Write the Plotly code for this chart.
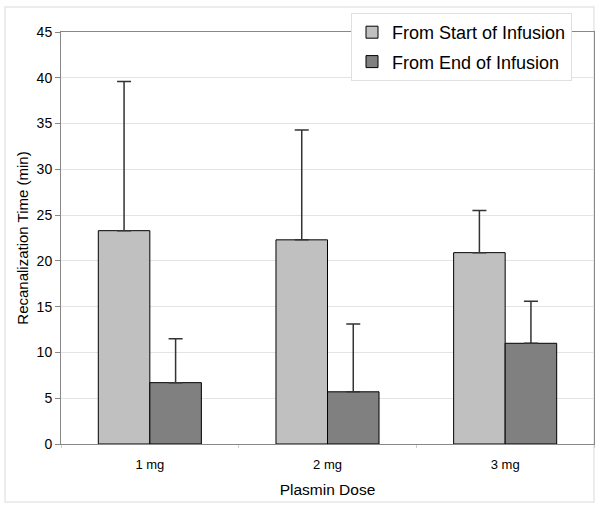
import plotly.graph_objects as go

categories = ["1 mg", "2 mg", "3 mg"]
start_vals = [23.3, 22.3, 20.9]
start_err = [16.3, 12.0, 4.6]
end_vals = [6.7, 5.7, 11.0]
end_err = [4.8, 7.4, 4.6]
series_names = ["From Start of Infusion", "From End of Infusion"]

FONT = "Liberation Sans, Arial, sans-serif"

fig = go.Figure()
fig.add_trace(go.Bar(
    x=categories, y=start_vals, name=series_names[0], legendgroup="a",
    marker=dict(color="#c0c0c0", line=dict(color="#000000", width=1)),
    error_y=dict(type="data", array=start_err, arrayminus=[0, 0, 0], symmetric=False,
                 color="#333333", thickness=1.5, width=7),
))
fig.add_trace(go.Bar(
    x=categories, y=end_vals, name=series_names[1], legendgroup="b",
    marker=dict(color="#808080", line=dict(color="#000000", width=1)),
    error_y=dict(type="data", array=end_err, arrayminus=[0, 0, 0], symmetric=False,
                 color="#333333", thickness=1.5, width=7),
))

L, R, T, B = 61, 6, 32, 64
W, H = 600, 508
pw, ph = W - L - R, H - T - B

def px_x(p):
    return (p - L) / pw

def px_y(p):
    return (H - B - p) / ph

fig.update_layout(
    width=W, height=H,
    margin=dict(l=L, r=R, t=T, b=B),
    paper_bgcolor="white", plot_bgcolor="white",
    barmode="group", bargap=0.42, bargroupgap=0,
    font=dict(family=FONT, size=13, color="#000000"),
    showlegend=True,
    legend=dict(
        x=px_x(351), y=px_y(13), xanchor="left", yanchor="top",
        bgcolor="white", bordercolor="#e0e0e0", borderwidth=1,
        font=dict(family=FONT, size=18, color="#000000"),
        tracegroupgap=3, traceorder="grouped",
    ),
    xaxis=dict(
        showline=True, linecolor="#888888", linewidth=1, mirror=True,
        ticks="outside", tickson="boundaries", ticklen=3, tickcolor="#cccccc",
        showgrid=False, ticklabelstandoff=8,
        title=dict(text="Plasmin Dose", font=dict(family=FONT, size=15.5), standoff=13),
        tickfont=dict(family=FONT, size=13),
    ),
    yaxis=dict(
        range=[0, 45], dtick=5, tick0=0,
        showline=True, linecolor="#888888", linewidth=1, mirror=True,
        ticks="outside", ticklen=5, tickcolor="#888888",
        showgrid=True, gridcolor="#e4e4e4", gridwidth=1,
        zeroline=False,
        title=dict(text="Recanalization Time (min)", font=dict(family=FONT, size=15), standoff=4),
        tickfont=dict(family=FONT, size=14),
    ),
    shapes=[
        dict(type="rect", xref="paper", yref="paper",
             x0=px_x(5), x1=px_x(594), y0=px_y(502), y1=px_y(7),
             line=dict(color="#e6e6e6", width=1.5), layer="below"),
    ],
)

fig.write_html("out.html", config={"displayModeBar": False},
               post_script="document.body.style.margin='0';document.body.style.padding='0';")
